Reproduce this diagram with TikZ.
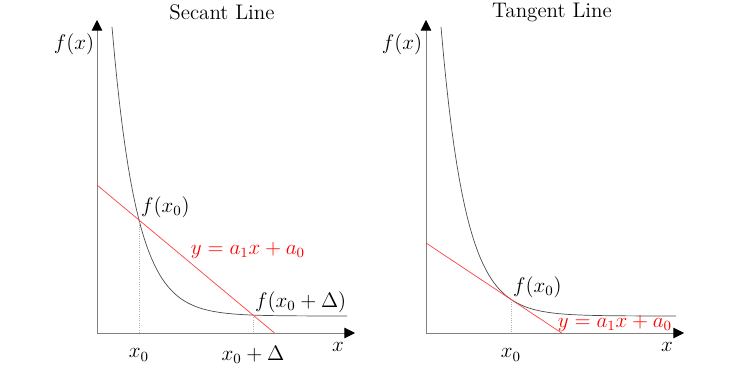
\documentclass[tikz,border=0pt]{standalone}
\usetikzlibrary{arrows.meta}

\begin{document}
\begin{tikzpicture}[
    x=0.02cm, y=0.02cm,
    font=\fontsize{12pt}{14pt}\selectfont,
    axis/.style={draw=gray, line width=0.5pt,
      -{Triangle[length=6pt, width=6pt, color=black]}},
    curve/.style={draw=black!70, line width=0.4pt},
    fitline/.style={draw=red!75, line width=0.4pt},
    drop/.style={draw=gray!60, densely dotted, line width=0.3pt},
    pointlabel/.style={anchor=south west, inner sep=1pt}
  ]
  \useasboundingbox (-97,-42) rectangle (650,333);

  % secant panel
  \coordinate (s_o) at (0,0);
  \coordinate (s_y) at (0,313);
  \coordinate (s_x) at (258,0);
  \coordinate (s_p0) at (42,113);
  \coordinate (s_p1) at (156,18);
  \coordinate (s_a) at (0,148);
  \coordinate (s_b) at (177.5,0);

  \draw[axis] (s_o) -- (s_y);
  \draw[axis] (s_o) -- (s_x);
  \draw[curve] plot[domain=15:250, samples=90] (\x, {17+533*exp(-0.0408*\x)});
  \draw[drop] (s_p0) -- (s_p0 |- s_o);
  \draw[drop] (s_p1) -- (s_p1 |- s_o);
  \draw[fitline] (s_a) -- (s_b);

  \node (s_title) at (125,321) {Secant Line};
  \node (s_fx) at (-23,289) {$f(x)$};
  \node (s_xlab) at (241,-14) {$x$};
  \node (s_x0) at (42,-22) {$x_0$};
  \node (s_x1) at (156,-22) {$x_0+\Delta$};
  \node[pointlabel] (s_f0) at (s_p0) {$f(x_0)$};
  \node[pointlabel] (s_f1) at (s_p1) {$f(x_0+\Delta)$};
  \node[text=red] (s_eq) at (151,83) {$y=a_1x+a_0$};

  % tangent panel
  \begin{scope}[shift={(329,0)}]
    \coordinate (t_o) at (0,0);
    \coordinate (t_y) at (0,313);
    \coordinate (t_x) at (258,0);
    \coordinate (t_p0) at (85,33.6);
    \coordinate (t_a) at (0,90);
    \coordinate (t_b) at (135.6,0);

    \draw[axis] (t_o) -- (t_y);
    \draw[axis] (t_o) -- (t_x);
    \draw[curve] plot[domain=15:250, samples=90] (\x, {17+533*exp(-0.0408*\x)});
    \draw[drop] (t_p0) -- (t_p0 |- t_o);
    \draw[fitline] (t_a) -- (t_b);

    \node (t_title) at (126,321) {Tangent Line};
    \node (t_fx) at (-24,289) {$f(x)$};
    \node (t_xlab) at (241,-14) {$x$};
    \node (t_x0) at (85,-22) {$x_0$};
    \node[pointlabel] (t_f0) at (t_p0) {$f(x_0)$};
    \node[text=red] (t_eq) at (189,10) {$y=a_1x+a_0$};
  \end{scope}
\end{tikzpicture}
\end{document}
